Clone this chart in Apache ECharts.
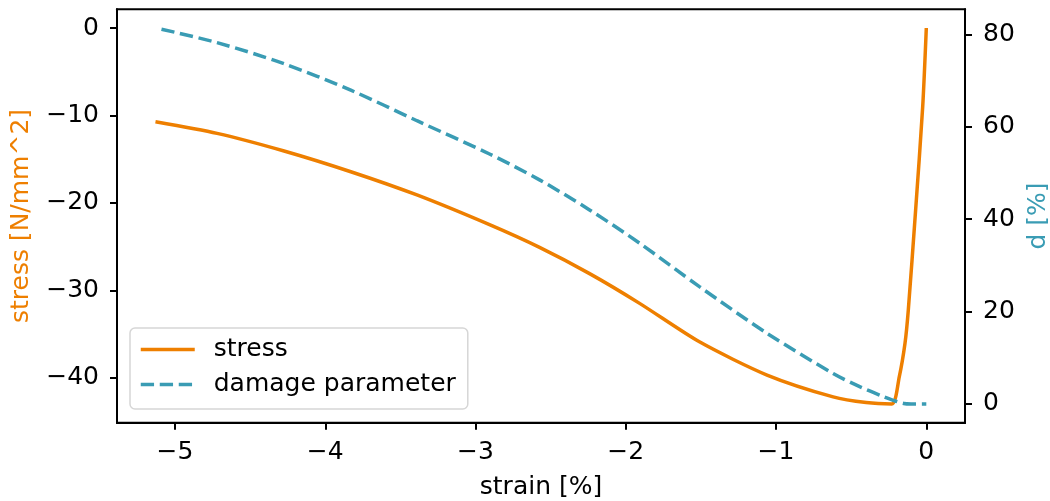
<!DOCTYPE html>
<html>
<head>
<meta charset="utf-8">
<script src="https://cdn.jsdelivr.net/npm/echarts@6/dist/echarts.min.js"></script>
<style>html,body{margin:0;padding:0;background:#fff}#c{width:1050px;height:501px}</style>
</head>
<body>
<div id="c"></div>
<script>
// strain [%] values and stress [N/mm^2]
var stressStrain = [-5.13,-4.72,-4.28,-3.83,-3.39,-2.907,-2.574,-2.241,-1.908,-1.51,-1.06,-0.62,-0.40,-0.23,-0.18,-0.142,-0.12,-0.071,-0.024,0];
var stressValues = [-10.72,-12.05,-14.04,-16.44,-19.1,-22.5,-25.1,-28.1,-31.5,-35.9,-39.7,-42.2,-42.85,-43.0,-39.9,-36.1,-32.3,-20.8,-9.0,0];
// damage parameter d [%]
var damageStrain = [-5.09,-4.72,-4.28,-3.83,-3.39,-2.907,-2.574,-2.241,-1.908,-1.51,-1.06,-0.62,-0.44,-0.30,-0.22,-0.15,-0.10,0];
var damageValues = [81.1,78.2,73.7,67.9,61.3,54.1,48.5,42.0,34.8,25.4,15.3,6.6,3.7,1.8,0.8,0.1,0,0];
var xTicks = [-5,-4,-3,-2,-1,0];
var stressTicks = [-40,-30,-20,-10,0];
var damageTicks = [0,20,40,60,80];

var ORANGE = '#EE7F00', BLUE = '#3A9CB4';
var FONT = 'DejaVu Sans';
var FS = 25;
function minus(v){ return String(v).replace('-', '\u2212'); }
function zip(a,b){ return a.map(function(x,i){ return [x,b[i]]; }); }

var chart = echarts.init(document.getElementById('c'));
chart.setOption({
  animation: false,
  grid: { left: 117, right: 85, top: 9.3, bottom: 78.3, containLabel: false, outerBoundsMode: 'none',
          show: true, borderColor: '#000', borderWidth: 2, backgroundColor: 'transparent' },
  legend: {
    orient: 'vertical', left: 130, top: 328,
    padding: [9, 12, 12, 9], itemGap: 10, itemWidth: 54, itemHeight: 14,
    backgroundColor: 'rgba(255,255,255,0.8)', borderColor: '#d6d6d6', borderWidth: 1.5, borderRadius: 5,
    itemStyle: { opacity: 0 },
    lineStyle: { width: 3.5 },
    textStyle: { fontFamily: FONT, fontSize: FS, color: '#000', padding: [0,0,0,14] },
    data: ['stress', 'damage parameter']
  },
  xAxis: {
    type: 'value', min: -5.386, max: 0.2575,
    name: 'strain [%]', nameLocation: 'middle', nameGap: 52,
    nameTextStyle: { fontFamily: FONT, fontSize: FS, color: '#000' },
    axisLine: { onZero: false, lineStyle: { color: '#000', width: 2 } },
    axisTick: { length: 7, lineStyle: { color: '#000', width: 2 }, customValues: xTicks },
    axisLabel: { fontFamily: FONT, fontSize: FS, color: '#000', margin: 17, customValues: xTicks, formatter: minus },
    splitLine: { show: false }
  },
  yAxis: [{
    type: 'value', min: -45.15, max: 2.14, position: 'left',
    name: 'stress [N/mm^2]', nameLocation: 'middle', nameGap: 83, nameRotate: 90,
    nameTextStyle: { fontFamily: FONT, fontSize: FS, color: ORANGE },
    axisLine: { show: true, onZero: false, lineStyle: { color: '#000', width: 2 } },
    axisTick: { show: true, length: 7, lineStyle: { color: '#000', width: 2 }, customValues: stressTicks },
    axisLabel: { fontFamily: FONT, fontSize: FS, color: '#000', margin: 18, customValues: stressTicks, formatter: minus },
    splitLine: { show: false }
  }, {
    type: 'value', min: -4.05, max: 85.41, position: 'right',
    name: 'd [%]', nameLocation: 'middle', nameGap: 61, nameRotate: 90,
    nameTextStyle: { fontFamily: FONT, fontSize: FS, color: BLUE },
    axisLine: { show: true, onZero: false, lineStyle: { color: '#000', width: 2 } },
    axisTick: { show: true, length: 7, lineStyle: { color: '#000', width: 2 }, customValues: damageTicks },
    axisLabel: { fontFamily: FONT, fontSize: FS, color: '#000', margin: 18, customValues: damageTicks, formatter: minus },
    splitLine: { show: false }
  }],
  series: [{
    name: 'stress', type: 'line', yAxisIndex: 0, showSymbol: false, symbol: 'none', smooth: 0.25,
    color: ORANGE, lineStyle: { color: ORANGE, width: 3.5 },
    data: zip(stressStrain, stressValues)
  }, {
    name: 'damage parameter', type: 'line', yAxisIndex: 1, showSymbol: false, symbol: 'none', smooth: 0.3,
    color: BLUE, lineStyle: { color: BLUE, width: 3.5, type: [13.3, 5.7] },
    data: zip(damageStrain, damageValues)
  }]
});
</script>
</body>
</html>
